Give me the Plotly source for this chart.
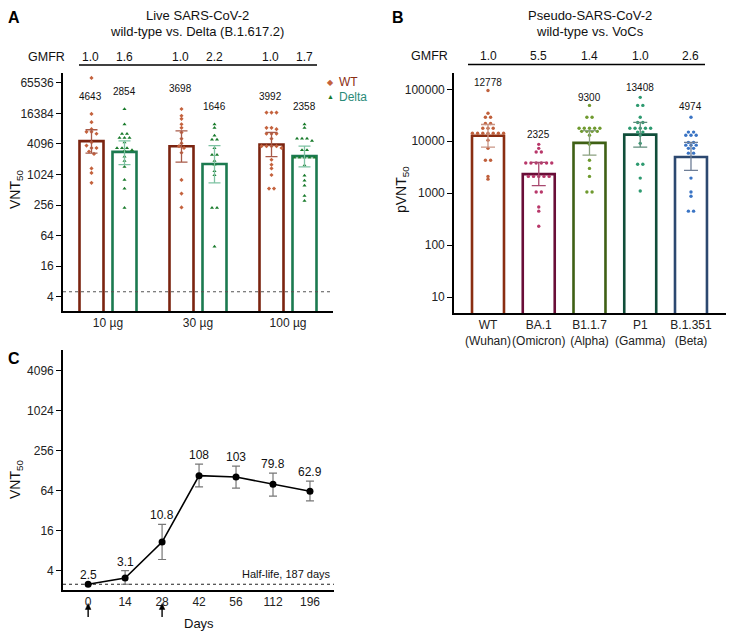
import numpy as np
import plotly.graph_objects as go

W, H = 736, 638
FONT = "Liberation Sans"
OFF = 8  # page body margin offset applied by the browser

# ---------------- Panel A data (Live SARS-CoV-2, WT vs Delta) ----------------
A_doses = ["10 µg", "30 µg", "100 µg"]
A_gm_wt = [4643, 3698, 3992]
A_gm_delta = [2854, 1646, 2358]
A_gmfr_wt = ["1.0", "1.0", "1.0"]
A_gmfr_delta = ["1.6", "2.2", "1.7"]
A_ci_wt_lo = [2700, 1800, 2300]
A_ci_wt_hi = [7800, 7400, 6900]
A_ci_delta_lo = [1600, 700, 1450]
A_ci_delta_hi = [4700, 3800, 3700]
A_dots_wt = [
    [82000, 16000, 11000, 8000, 7100, 7100, 6500, 4400, 3800, 3400, 3400, 2900, 2600, 1350, 1100, 700],
    [20000, 14700, 12800, 10000, 8500, 6900, 5200, 4200, 3700, 3400, 2750, 800, 430, 230],
    [17000, 17000, 17000, 8500, 8500, 8000, 6500, 6500, 6500, 5200, 3700, 3700, 3700, 3700, 3400,
     2000, 1600, 1350, 1000, 540, 540],
]
A_dots_delta = [
    [20000, 10000, 6500, 6500, 5400, 5400, 5400, 4400, 3400, 3400, 3400, 3100, 3000, 2300, 1900,
     1450, 800, 540, 225],
    [10000, 8500, 6000, 5000, 5000, 3400, 2500, 2500, 1900, 1600, 1200, 1000, 225, 225, 39],
    [10000, 8500, 5200, 5200, 5200, 4700, 3100, 3100, 2200, 2200, 2200, 2200, 2200, 1550, 970,
     780, 620, 390, 310],
]
A_lod = 5
A_yticks = [4, 16, 64, 256, 1024, 4096, 16384, 65536]

# ---------------- Panel B data (Pseudo-SARS-CoV-2, WT vs VoCs) ----------------
B_variants = ["WT<br>(Wuhan)", "BA.1<br>(Omicron)", "B1.1.7<br>(Alpha)", "P1<br>(Gamma)", "B.1.351<br>(Beta)"]
B_gm = [12778, 2325, 9300, 13408, 4974]
B_gmfr = ["1.0", "5.5", "1.4", "1.0", "2.6"]
B_ci_lo = [7700, 1400, 5400, 7700, 2750]
B_ci_hi = [21000, 3900, 16000, 23000, 9500]
B_dots = [
    [95000, 34500, 29000, 29000, 22000, 22000, 17800, 17800, 17800, 14200, 14200, 14200, 14200,
     14200, 14200, 14200, 10500, 7300, 4300, 4300, 2100, 1860],
    [8700, 7300, 6200, 6200, 3800, 3800, 3800, 3800, 3800, 3800, 2100, 2100, 2100, 2100, 2100,
     1050, 1050, 540, 450, 230],
    [49000, 29000, 29000, 17800, 17800, 17800, 17800, 17800, 15500, 15500, 15500, 15500, 13000,
     8700, 4300, 3000, 2100, 1050, 1050],
    [70000, 49000, 49000, 29000, 23000, 23000, 17800, 17800, 17800, 17800, 17800, 15000, 15000,
     13000, 9100, 3600, 3600, 1950, 1100],
    [29000, 15000, 15000, 13000, 13000, 13000, 9500, 9500, 8400, 8400, 8400, 7300, 7300, 5900,
     5900, 1950, 1050, 870, 450, 450],
]
B_yticks = [10, 100, 1000, 10000, 100000]

# ---------------- Panel C data (kinetics) ----------------
C_days = ["0", "14", "28", "42", "56", "112", "196"]
C_vnt = [2.5, 3.1, 10.8, 108, 103, 79.8, 62.9]
C_labels = ["2.5", "3.1", "10.8", "108", "103", "79.8", "62.9"]
C_err_lo = [2.5, 2.5, 5.9, 73, 70, 53, 45]
C_err_hi = [2.5, 4.0, 20, 161, 150, 118, 89]
C_dose_days = [0, 2]  # indices of dose arrows
C_lod = 2.5
C_yticks = [4, 16, 64, 256, 1024, 4096]

# ---------------- styles ----------------
A_col_wt = dict(bar="#7B2410", dot="#C4623D", err="#A85A48", legend="#8B2E14")
A_col_delta = dict(bar="#1C7A50", dot="#177A2A", err="#7DC2A2", legend="#2A8A78")
B_cols = [
    dict(bar="#8A2E12", dot="#C0603C", err="#C99585"),
    dict(bar="#6A0E38", dot="#B8386A", err="#A8486F"),
    dict(bar="#3F6015", dot="#6F9A2F", err="#8AA080"),
    dict(bar="#104E3A", dot="#2E9A70", err="#5E8C7A"),
    dict(bar="#2C4870", dot="#3A74C4", err="#6E7E96"),
]


def px(x):
    return (x - OFF) / W


def py(y):
    return 1 - (y - OFF) / H


# plot areas in screen pixels
A_box = dict(x0=63, x1=333, y0=73, y1=311)
B_box = dict(x0=454, x1=726, y0=73, y1=313)
C_box = dict(x0=63, x1=334, y0=350, y1=590)

A_xrange = [-0.5, 2.5]
A_yrange = [0.320, 5.01]
B_xrange = [-0.67, 4.69]
B_yrange = [0.692, 5.314]
C_xrange = [-0.68, 6.65]
C_yrange = [0.3116, 3.925]


def swarm(vals, center, box, yrange, xrange, spacing_px=5.0, tol_px=2.6):
    ypx = (box["y1"] - box["y0"]) / (yrange[1] - yrange[0])
    xpx = (box["x1"] - box["x0"]) / (xrange[1] - xrange[0])
    order = sorted(range(len(vals)), key=lambda i: -vals[i])
    groups = []
    for i in order:
        yp = np.log10(vals[i]) * ypx
        if groups and abs(groups[-1][0] - yp) < tol_px:
            groups[-1][1].append(i)
        else:
            groups.append([yp, [i]])
    xs = [center] * len(vals)
    for _, idx in groups:
        n = len(idx)
        for k, i in enumerate(idx):
            xs[i] = center + (k - (n - 1) / 2) * spacing_px / xpx
    return xs


def ax_px(i, box, xrange):
    return box["x0"] + (i - xrange[0]) / (xrange[1] - xrange[0]) * (box["x1"] - box["x0"])


fig = go.Figure()
annotations = []
shapes = []

# ---------------- Panel A ----------------
A_off = 0.1833
A_w = 0.2667
bars, dots, errs = [], [], []
for i in range(3):
    for s, (gm, lo, hi, dv, col, sym) in enumerate([
        (A_gm_wt[i], A_ci_wt_lo[i], A_ci_wt_hi[i], A_dots_wt[i], A_col_wt, "diamond"),
        (A_gm_delta[i], A_ci_delta_lo[i], A_ci_delta_hi[i], A_dots_delta[i], A_col_delta, "triangle-up"),
    ]):
        xc = i + (-A_off if s == 0 else A_off)
        bars.append(go.Bar(x=[xc], y=[gm], width=[A_w], xaxis="x", yaxis="y",
                           marker=dict(color="white", line=dict(color=col["bar"], width=2.6)),
                           showlegend=False, hoverinfo="skip"))
        xs = swarm(dv, xc, A_box, A_yrange, A_xrange)
        dots.append(go.Scatter(x=xs, y=dv, mode="markers", xaxis="x", yaxis="y",
                               marker=dict(symbol=sym, size=3.2 if s == 0 else 3.6, color=col["dot"]),
                               showlegend=False, hoverinfo="skip"))
        errs.append(go.Scatter(x=[xc], y=[gm], mode="markers", xaxis="x", yaxis="y",
                               marker=dict(color="rgba(0,0,0,0)", size=1),
                               error_y=dict(type="data", symmetric=False, array=[hi - gm],
                                            arrayminus=[gm - lo], color=col["err"],
                                            thickness=1.3, width=6),
                               showlegend=False, hoverinfo="skip"))
fig.add_trace(go.Scatter(x=A_xrange, y=[A_lod, A_lod], mode="lines", xaxis="x", yaxis="y",
                         line=dict(color="#555", width=1.2, dash="dot"),
                         showlegend=False, hoverinfo="skip"))
for t in bars + dots + errs:
    fig.add_trace(t)

# ---------------- Panel B ----------------
B_w = 0.63
bars, dots, errs = [], [], []
for i in range(5):
    col = B_cols[i]
    bars.append(go.Bar(x=[i], y=[B_gm[i]], width=[B_w], xaxis="x2", yaxis="y2",
                       marker=dict(color="white", line=dict(color=col["bar"], width=2.6)),
                       showlegend=False, hoverinfo="skip"))
    xs = swarm(B_dots[i], i, B_box, B_yrange, B_xrange, spacing_px=5.2)
    dots.append(go.Scatter(x=xs, y=B_dots[i], mode="markers", xaxis="x2", yaxis="y2",
                           marker=dict(symbol="circle", size=3.4, color=col["dot"]),
                           showlegend=False, hoverinfo="skip"))
    errs.append(go.Scatter(x=[i], y=[B_gm[i]], mode="markers", xaxis="x2", yaxis="y2",
                           marker=dict(color="rgba(0,0,0,0)", size=1),
                           error_y=dict(type="data", symmetric=False, array=[B_ci_hi[i] - B_gm[i]],
                                        arrayminus=[B_gm[i] - B_ci_lo[i]], color=col["err"],
                                        thickness=1.3, width=7),
                           showlegend=False, hoverinfo="skip"))
for t in bars + dots + errs:
    fig.add_trace(t)

# ---------------- Panel C ----------------
Cx = list(range(len(C_days)))
fig.add_trace(go.Scatter(x=C_xrange, y=[C_lod, C_lod], mode="lines", xaxis="x3", yaxis="y3",
                         line=dict(color="#222", width=1.2, dash="dot"),
                         showlegend=False, hoverinfo="skip"))
fig.add_trace(go.Scatter(x=Cx, y=C_vnt, mode="lines+markers", xaxis="x3", yaxis="y3",
                         line=dict(color="black", width=1.6),
                         marker=dict(color="black", size=7),
                         error_y=dict(type="data", symmetric=False,
                                      array=[h - v for h, v in zip(C_err_hi, C_vnt)],
                                      arrayminus=[v - l for v, l in zip(C_vnt, C_err_lo)],
                                      color="#777", thickness=1.2, width=4),
                         showlegend=False, hoverinfo="skip"))
for i, lab in enumerate(C_labels):
    annotations.append(dict(x=i, y=np.log10(C_err_hi[i]), xref="x3", yref="y3", text=lab,
                            showarrow=False, xanchor="center", yanchor="bottom", yshift=0,
                            font=dict(size=12, color="#111", family=FONT)))
# dose arrows (shapes in paper coordinates)
for i in C_dose_days:
    xa = ax_px(i, C_box, C_xrange)
    shapes.append(dict(type="line", xref="paper", yref="paper", x0=px(xa), x1=px(xa),
                       y0=py(617), y1=py(608), line=dict(color="black", width=1.4)))
    shapes.append(dict(type="path", xref="paper", yref="paper",
                       path=f"M {px(xa-2.8)} {py(609.5)} L {px(xa+2.8)} {py(609.5)} L {px(xa)} {py(603.5)} Z",
                       fillcolor="black", line=dict(color="black", width=0.5)))


def txt(x, y, s, size=12, color="#111", **kw):
    d = dict(x=px(x), y=py(y), xref="paper", yref="paper", text=s, showarrow=False,
             xanchor="center", yanchor="middle",
             font=dict(size=size, color=color, family=FONT))
    d.update(kw)
    annotations.append(d)


txt(333, 574, "Half-life, 187 days", size=11, xanchor="right")
txt(199, 623, "Days", size=13)

# ---------------- text decorations ----------------
txt(14, 18, "<b>A</b>", size=16, color="black")
txt(398, 18, "<b>B</b>", size=16, color="black")
txt(14, 358, "<b>C</b>", size=16, color="black")
txt(197, 15.5, "Live SARS-CoV-2", size=13)
txt(197, 31, "wild-type vs. Delta (B.1.617.2)", size=13)
txt(590, 15.5, "Pseudo-SARS-CoV-2", size=13)
txt(590, 32, "wild-type vs. VoCs", size=13)

# GMFR rows
txt(46, 57, "GMFR", size=12.5)
txt(429, 56, "GMFR", size=12.5)
for i in range(3):
    txt(ax_px(i - A_off, A_box, A_xrange) - 1, 57, A_gmfr_wt[i], size=12)
    txt(ax_px(i + A_off, A_box, A_xrange), 57, A_gmfr_delta[i], size=12)
for i in range(5):
    txt(ax_px(i, B_box, B_xrange), 56, B_gmfr[i], size=12)
shapes.append(dict(type="line", xref="paper", yref="paper", x0=px(79), x1=px(317),
                   y0=py(65), y1=py(65), line=dict(color="black", width=1.6)))
shapes.append(dict(type="line", xref="paper", yref="paper", x0=px(468), x1=px(705),
                   y0=py(64.5), y1=py(64.5), line=dict(color="black", width=1.6)))

# geometric mean labels
A_label_ypx = [[96, 91], [89, 106], [96, 106]]
for i in range(3):
    txt(ax_px(i - A_off, A_box, A_xrange) - 1, A_label_ypx[i][0], str(A_gm_wt[i]), size=10)
    txt(ax_px(i + A_off, A_box, A_xrange), A_label_ypx[i][1], str(A_gm_delta[i]), size=10)
B_label_ypx = [82, 134, 97, 88, 106]
for i in range(5):
    txt(ax_px(i, B_box, B_xrange), B_label_ypx[i], str(B_gm[i]), size=10)

# legend (panel A)
txt(330, 82, "◆", size=8, color=A_col_wt["dot"])
txt(337, 82, "WT", size=12, color=A_col_wt["legend"], xanchor="left")
txt(330, 96, "▲", size=7, color=A_col_delta["dot"])
txt(337, 97, "Delta", size=12, color=A_col_delta["legend"], xanchor="left")

# y axis titles
txt(16, 190, "VNT<sub>50</sub>", size=14, textangle=-90)
txt(402, 190, "pVNT<sub>50</sub>", size=14, textangle=-90)
txt(16, 480, "VNT<sub>50</sub>", size=14, textangle=-90)

# ---------------- axes ----------------
tickfont = dict(size=12, color="#222", family=FONT)
common_y = dict(type="log", showline=True, linecolor="black", linewidth=1.6, ticks="outside",
                ticklen=5, tickwidth=1.4, tickcolor="black", showgrid=False, zeroline=False,
                tickfont=tickfont, automargin=False)
common_x = dict(showline=True, linecolor="black", linewidth=1.6, ticks="", showgrid=False,
                zeroline=False, tickfont=tickfont, automargin=False, tickangle=0)

fig.update_layout(
    template="none",
    width=W, height=H, margin=dict(l=0, r=0, t=0, b=0, pad=0),
    paper_bgcolor="white", plot_bgcolor="white", barmode="overlay", showlegend=False,
    font=dict(family=FONT, color="#111"),
    xaxis=dict(common_x, domain=[px(A_box["x0"]), px(A_box["x1"])], range=A_xrange,
               tickvals=[0, 1, 2], ticktext=A_doses, anchor="y"),
    yaxis=dict(common_y, domain=[py(A_box["y1"]), py(A_box["y0"])], range=A_yrange,
               tickvals=A_yticks, ticktext=[str(v) for v in A_yticks], anchor="x"),
    xaxis2=dict(common_x, domain=[px(B_box["x0"]), px(B_box["x1"])], range=B_xrange,
                tickvals=list(range(5)), ticktext=B_variants, anchor="y2"),
    yaxis2=dict(common_y, domain=[py(B_box["y1"]), py(B_box["y0"])], range=B_yrange,
                tickvals=B_yticks, ticktext=[str(v) for v in B_yticks], anchor="x2"),
    xaxis3=dict(common_x, domain=[px(C_box["x0"]), px(C_box["x1"])], range=C_xrange,
                tickvals=Cx, ticktext=C_days, anchor="y3"),
    yaxis3=dict(common_y, domain=[py(C_box["y1"]), py(C_box["y0"])], range=C_yrange,
                tickvals=C_yticks, ticktext=[str(v) for v in C_yticks], anchor="x3"),
    annotations=annotations,
    shapes=shapes,
)

fig.write_html("out.html")
